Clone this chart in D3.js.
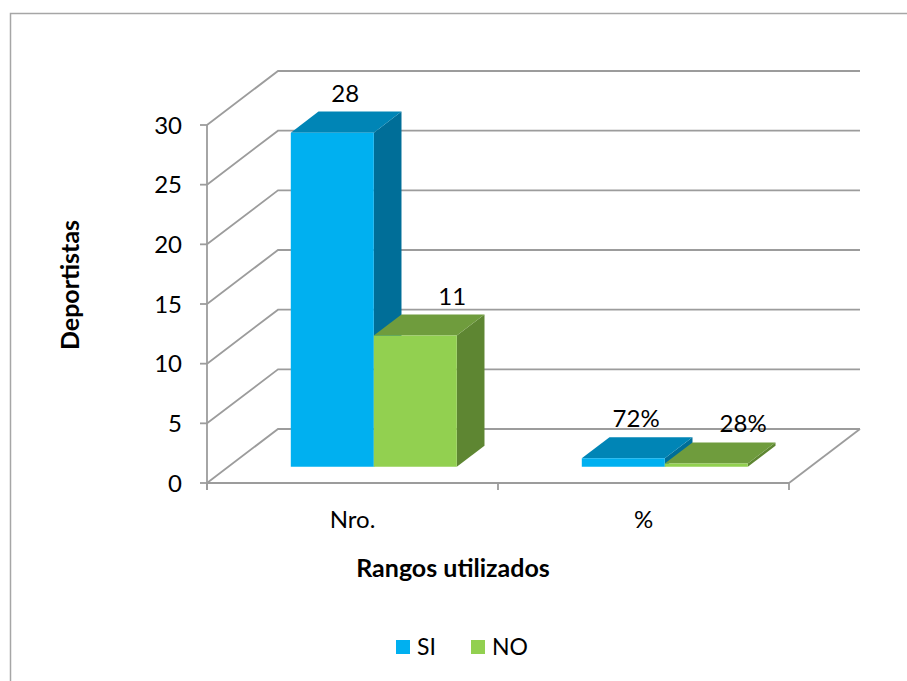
<!DOCTYPE html>
<html>
<head>
<meta charset="utf-8">
<script src="https://cdn.jsdelivr.net/npm/d3@7"></script>
<style>
  html, body { margin: 0; padding: 0; background: #fff; }
  svg text { font-family: Lato, "Open Sans", sans-serif; fill: #000; }
</style>
</head>
<body>
<div id="chart"></div>
<script>
// chart data
const categories = ["Nro.", "%"];
const seriesNames = ["SI", "NO"];
const siValues = [28, 0.72];
const noValues = [11, 0.28];
const yTicks = [0, 5, 10, 15, 20, 25, 30];
const labelFormats = [d3.format("d"), d3.format(".0%")];

const W = 907, H = 681;

// 3d look
const DEPTH = { dx: 71, dy: -54 };
const BAR_Z = [0.30, 0.69];
const COLORS = {
  SI: { front: "#00B0F0", top: "#0085B6", side: "#006E98" },
  NO: { front: "#92D050", top: "#6F9C3D", side: "#5E8632" },
};
const LABEL_DX = { SI: -1, NO: 23 };
const GRID = "#9c9c9c";

const svg = d3.select("#chart").append("svg")
  .attr("width", W)
  .attr("height", H);

// outer chart border (only left/top visible)
svg.append("rect")
  .attr("x", 10.5).attr("y", 13.5)
  .attr("width", 1000).attr("height", 1000)
  .attr("fill", "none")
  .attr("stroke", "#a6a6a6")
  .attr("stroke-width", 1.5);

const y = d3.scaleLinear().domain([0, 30]).range([483, 125]);
const x = d3.scaleBand().domain(categories).range([207, 789]);
const xs = d3.scaleBand().domain(seriesNames)
  .range([0, x.bandwidth()])
  .paddingInner(0)
  .paddingOuter(0.753);

// oblique projection: px, value, depth fraction -> screen point
function proj(px, v, z) {
  return [px + z * DEPTH.dx, y(v) + z * DEPTH.dy];
}

const x0 = x.range()[0], x1 = x.range()[1];

// back wall gridlines + left side wall diagonals
const grid = svg.append("g")
  .attr("fill", "none")
  .attr("stroke", GRID)
  .attr("stroke-width", 1.8);

yTicks.forEach((t) => {
  const a = proj(x0, t, 0), b = proj(x0, t, 1), c = proj(x1, t, 1);
  grid.append("path").attr("d", d3.line()([a, b, c]));
});

// floor right edge
grid.append("path").attr("d", d3.line()([proj(x1, 0, 0), proj(x1, 0, 1)]));

// y axis and x axis (front edges)
grid.append("path").attr("d", d3.line()([[x0, y(30)], [x0, y(0) + 7]]));
grid.append("path").attr("d", d3.line()([[x0, y(0)], [x1, y(0)]]));

yTicks.forEach((t) => {
  grid.append("path").attr("d", d3.line()([[x0 - 7, y(t)], [x0, y(t)]]));
});
[x0, x0 + x.step(), x1].forEach((px) => {
  grid.append("path").attr("d", d3.line()([[px, y(0)], [px, y(0) + 7]]));
});

// y tick labels
svg.append("g").selectAll("text")
  .data(yTicks)
  .join("text")
  .attr("x", 182)
  .attr("y", (d) => y(d))
  .attr("dy", "0.36em")
  .attr("text-anchor", "end")
  .attr("font-size", 24)
  .text((d) => d);

// category labels
svg.append("g").selectAll("text")
  .data(categories)
  .join("text")
  .attr("x", (d) => x(d) + x.bandwidth() / 2)
  .attr("y", 528)
  .attr("text-anchor", "middle")
  .attr("font-size", 24)
  .text((d) => d);

// bars
const barData = [];
categories.forEach((c, i) => {
  barData.push({ cat: c, ci: i, s: "SI", v: siValues[i] });
  barData.push({ cat: c, ci: i, s: "NO", v: noValues[i] });
});

const bars = svg.append("g");
barData.forEach((d) => {
  const l = x(d.cat) + xs(d.s);
  const r = l + xs.bandwidth();
  const zf = BAR_Z[0], zb = BAR_Z[1];
  const col = COLORS[d.s];
  const g = bars.append("g");

  const front = [proj(l, 0, zf), proj(r, 0, zf), proj(r, d.v, zf), proj(l, d.v, zf)];
  const top = [proj(l, d.v, zf), proj(r, d.v, zf), proj(r, d.v, zb), proj(l, d.v, zb)];
  const side = [proj(r, 0, zf), proj(r, 0, zb), proj(r, d.v, zb), proj(r, d.v, zf)];

  g.append("polygon").attr("points", side.join(" ")).attr("fill", col.side);
  g.append("polygon").attr("points", top.join(" ")).attr("fill", col.top);
  g.append("polygon").attr("points", front.join(" ")).attr("fill", col.front);
});

// value labels, centred over the top face
const zMid = (BAR_Z[0] + BAR_Z[1]) / 2;
svg.append("g").selectAll("text")
  .data(barData)
  .join("text")
  .attr("x", (d) => proj(x(d.cat) + xs(d.s) + xs.bandwidth() / 2, d.v, zMid)[0] + LABEL_DX[d.s])
  .attr("y", (d) => proj(0, d.v, BAR_Z[0])[1] - 31)
  .attr("text-anchor", "middle")
  .attr("font-size", 24)
  .text((d) => labelFormats[d.ci](d.v));

// axis titles
svg.append("text")
  .attr("x", 453)
  .attr("y", 577)
  .attr("text-anchor", "middle")
  .attr("font-size", 25)
  .attr("font-weight", "bold")
  .text("Rangos utilizados");

svg.append("text")
  .attr("transform", "translate(79,285) rotate(-90)")
  .attr("text-anchor", "middle")
  .attr("font-size", 25)
  .attr("font-weight", "bold")
  .text("Deportistas");

// legend
const legend = svg.append("g").attr("transform", "translate(396,640)");
const legendX = d3.scaleOrdinal().domain(seriesNames).range([0, 75]);
seriesNames.forEach((s) => {
  const g = legend.append("g").attr("transform", `translate(${legendX(s)},0)`);
  g.append("rect").attr("width", 14).attr("height", 14).attr("fill", COLORS[s].front);
  g.append("text")
    .attr("x", 21).attr("y", 7).attr("dy", "0.36em")
    .attr("font-size", 23)
    .text(s);
});
</script>
</body>
</html>
